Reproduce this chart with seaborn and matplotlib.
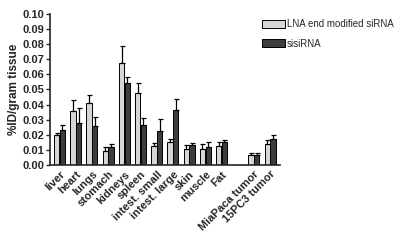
import numpy as np
import pandas as pd
import matplotlib
matplotlib.use('Agg')
import matplotlib.pyplot as plt
import seaborn as sns

tissues = ['liver', 'heart', 'lungs', 'stomach', 'kidneys', 'spleen',
           'intest. small', 'intest. large', 'skin', 'muscle', 'Fat',
           'MiaPaca tumor', '15PC3 tumor']
lna_mean = [0.0200, 0.0354, 0.0410, 0.0094, 0.0674, 0.0474, 0.0127,
            0.0151, 0.0105, 0.0107, 0.0125, 0.0063, 0.0140]
lna_err = [0.0013, 0.0073, 0.0055, 0.0024, 0.0116, 0.0070, 0.0020,
           0.0022, 0.0026, 0.0033, 0.0026, 0.0015, 0.0027]
sisi_mean = [0.0233, 0.0280, 0.0260, 0.0122, 0.0544, 0.0266, 0.0222,
             0.0366, 0.0131, 0.0116, 0.0151, 0.0063, 0.0171]
sisi_err = [0.0033, 0.0099, 0.0057, 0.0018, 0.0040, 0.0044, 0.0084,
            0.0072, 0.0016, 0.0038, 0.0016, 0.0015, 0.0029]
series = ['LNA end modified siRNA', 'sisiRNA']
colors = ['#d6d6d6', '#3c3c3c']

# blank slot between the organs and the tumours
order = tissues[:11] + [' '] + tissues[11:]

df = pd.concat([
    pd.DataFrame({'tissue': tissues, 'value': lna_mean, 'err': lna_err, 'group': series[0]}),
    pd.DataFrame({'tissue': tissues, 'value': sisi_mean, 'err': sisi_err, 'group': series[1]}),
], ignore_index=True)

sns.set_style('ticks')
plt.rcParams['font.family'] = ['Liberation Sans', 'DejaVu Sans']

fig = plt.figure(figsize=(4.05, 2.44), dpi=100)
ax = fig.add_axes([0.123, 0.324, 0.568, 0.619])

sns.barplot(data=df, x='tissue', y='value', hue='group', order=order,
            hue_order=series, palette=colors, width=0.7, gap=0.08,
            edgecolor='black', linewidth=0.7, errorbar=None, ax=ax)

# one-sided error bars drawn on top of each bar
for grp, cont in zip(series, ax.containers):
    sub = df[df['group'] == grp].set_index('tissue')
    for bar in cont:
        xc = bar.get_x() + bar.get_width() / 2
        name = order[int(round(xc))]
        if name not in sub.index:
            continue
        h = sub.loc[name, 'value']
        e = sub.loc[name, 'err']
        ax.errorbar(xc, h, yerr=[[0], [e]], fmt='none', ecolor='black',
                    elinewidth=0.9, capsize=1.8, capthick=0.9)

ax.set_ylim(0, 0.10)
ax.set_yticks(np.arange(0, 0.101, 0.01))
ax.set_yticklabels(['%.2f' % v for v in np.arange(0, 0.101, 0.01)],
                   fontsize=8, fontweight='bold')
ax.set_xlim(-0.6, len(order) - 0.4)
ax.set_xticks(range(len(order)))
ax.set_xticklabels(order, rotation=45, ha='right', rotation_mode='anchor',
                   fontsize=8, fontweight='bold')
ax.tick_params(axis='x', length=0, pad=3)
ax.tick_params(axis='y', length=3, width=1, pad=1)
ax.set_xlabel('')
ax.set_ylabel('%ID/gram tissue', fontsize=8.5, fontweight='bold', labelpad=2)
for s in ['left', 'bottom']:
    ax.spines[s].set_linewidth(1.2)
sns.despine(ax=ax)

ax.legend(frameon=False, loc='upper left', bbox_to_anchor=(0.905, 0.99),
          fontsize=7, handlelength=2.4, handleheight=0.8,
          handletextpad=0.15, labelspacing=0.95, borderaxespad=0)

fig.savefig('out.png', dpi=100)
